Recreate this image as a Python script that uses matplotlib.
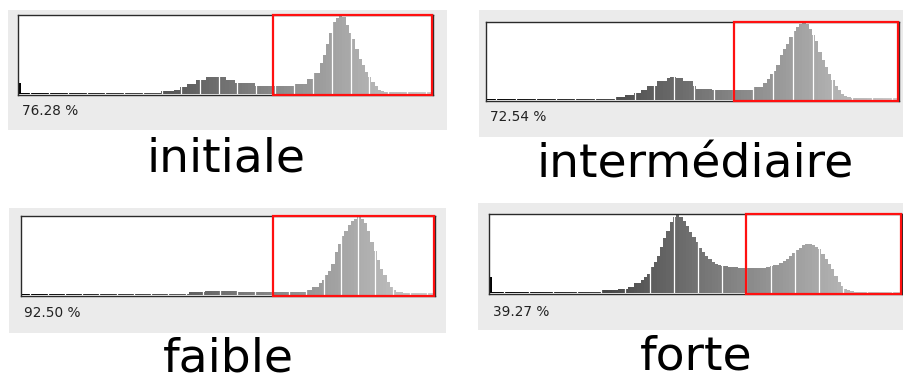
import matplotlib
matplotlib.use("Agg")
import matplotlib.pyplot as plt
from matplotlib.patches import Rectangle

# ---------------- data (histogram heights, % of max, 128 bins of 2 grey levels) -------------
categories = ["initiale", "intermédiaire", "faible", "forte"]
percent_labels = ["76.28 %", "72.54 %", "92.50 %", "39.27 %"]
thresholds = [157, 154, 156, 159]

hist_initiale = [
    14, 1.5, 1.5, 1.5, 1.5, 1.5, 1.5, 1.5, 1.5, 1.5, 1.5, 1.5, 1.5, 1.5, 1.5, 1.5,
    1.5, 1.5, 1.5, 1.5, 1.5, 1.5, 1.5, 1.5, 1.5, 1.5, 1.5, 1.5, 1.5, 1.5, 1.5, 1.5,
    1.5, 1.5, 1.5, 1.5, 1.5, 1.5, 1.5, 1.5, 1.5, 1.5, 1.5, 1.5, 3, 3, 3, 3,
    5, 5, 9, 9, 13, 13, 13, 18, 18, 18, 22, 22, 22, 21, 21, 21,
    18, 18, 18, 14, 14, 14, 14, 14, 14, 10, 10, 10, 10, 10, 10, 10,
    10, 10, 10, 10, 10, 12, 12, 12, 12, 19, 19, 27, 27, 40, 50, 64,
    78, 92, 98, 100, 99, 89, 78, 70, 57, 45, 37, 28, 22, 15, 10, 5,
    3, 2, 2, 2, 2, 2, 2, 2, 2, 2, 2, 2, 2, 2, 2, 2,
]

hist_intermediaire = [
    1.5, 1.5, 1.5, 1.5, 1.5, 1.5, 1.5, 1.5, 1.5, 1.5, 1.5, 1.5, 1.5, 1.5, 1.5, 1.5,
    1.5, 1.5, 1.5, 1.5, 1.5, 1.5, 1.5, 1.5, 1.5, 1.5, 1.5, 1.5, 1.5, 1.5, 1.5, 1.5,
    1.5, 1.5, 1.5, 1.5, 1.5, 1.5, 1.5, 1.5, 3, 3, 3, 6, 6, 6, 9, 9,
    13, 13, 18, 18, 18, 24, 24, 24, 28, 30, 30, 28, 28, 24, 24, 24,
    18, 14, 14, 14, 14, 14, 12, 12, 12, 12, 12, 12, 12, 13, 13, 13,
    13, 13, 13, 17, 17, 17, 22, 27, 33, 38, 45, 58, 66, 73, 82, 90,
    95, 99, 100, 99, 92, 84, 76, 62, 52, 43, 33, 26, 18, 12, 8, 5,
    4, 2, 2, 2, 2, 2, 2, 2, 2, 2, 2, 2, 2, 2, 2, 2,
]

hist_faible = [
    1.5, 1.5, 1.5, 1.5, 1.5, 1.5, 1.5, 1.5, 1.5, 1.5, 1.5, 1.5, 1.5, 1.5, 1.5, 1.5,
    1.5, 1.5, 1.5, 1.5, 1.5, 1.5, 1.5, 1.5, 1.5, 1.5, 1.5, 1.5, 1.5, 1.5, 1.5, 1.5,
    1.5, 1.5, 1.5, 1.5, 1.5, 1.5, 1.5, 1.5, 1.5, 1.5, 1.5, 1.5, 1.5, 1.5, 1.5, 1.5,
    1.5, 1.5, 1.5, 1.5, 3, 3, 3, 3, 3, 5, 5, 5, 5, 5, 5, 5,
    5, 5, 5, 4, 4, 4, 4, 4, 4, 4, 4, 4, 4, 4, 4, 3,
    3, 3, 3, 3, 4, 4, 4, 4, 6, 6, 10, 10, 15, 19, 25, 30,
    40, 55, 65, 75, 82, 90, 95, 98, 100, 98, 92, 82, 68, 56, 45, 33,
    25, 16, 10, 6, 3, 3, 2, 2, 2, 2, 2, 2, 2, 2, 2, 2,
]

hist_forte = [
    20, 1.5, 1.5, 1.5, 1.5, 1.5, 1.5, 1.5, 1.5, 1.5, 1.5, 1.5, 1.5, 1.5, 1.5, 1.5,
    1.5, 1.5, 1.5, 1.5, 1.5, 1.5, 1.5, 1.5, 1.5, 1.5, 1.5, 1.5, 1.5, 1.5, 1.5, 1.5,
    1.5, 1.5, 1.5, 3, 3, 3, 3, 3, 5, 5, 5, 7, 7, 12, 12, 16,
    20, 24, 33, 40, 47, 59, 70, 80, 91, 98, 100, 98, 92, 86, 78, 72,
    65, 57, 52, 47, 44, 40, 37, 35, 34, 34, 33, 33, 33, 32, 32, 32,
    32, 32, 32, 32, 32, 32, 33, 34, 35, 36, 38, 41, 44, 47, 51, 55,
    58, 61, 63, 63, 62, 59, 56, 50, 44, 37, 30, 21, 14, 9, 5, 3,
    2, 1.5, 1.5, 1.5, 1.5, 1.5, 1.5, 1.5, 1.5, 1.5, 1.5, 1.5, 1.5, 1.5, 1.5, 1.5,
]

histograms = [hist_initiale, hist_intermediaire, hist_faible, hist_forte]

# ---------------- layout (pixels) ----------------
W, H = 904, 374
# grey panel boxes (l, t, r, b)
panel_boxes = [(8, 10, 447, 130), (479, 10, 904, 137), (9, 208, 446, 333), (478, 203, 904, 330)]
# histogram frames (l, t, r, b)
axes_boxes = [(18, 15, 433, 95), (486, 22, 899, 101), (21, 216, 435, 296), (489, 214, 902, 294)]
pct_pos = [(22, 115), (490, 121), (24, 317), (493, 316)]
caption_pos = [(226, 171), (695, 178), (228, 371), (696, 370)]
# white separator lines: (first level, step, count)
sep_lines = [(7.4, 11.63, 22), (6.4, 12.25, 21), (5.75, 10.67, 24), (9.5, 15.0, 17)]


def fx(x):
    return x / W


def fy(y):
    return 1 - y / H


fig = plt.figure(figsize=(W / 100, H / 100), dpi=100)
fig.patch.set_facecolor("white")

YMIN, YMAX = -1.7, 101.3

for i in range(4):
    l, t, r, b = panel_boxes[i]
    fig.add_artist(Rectangle((fx(l), fy(b)), (r - l) / W, (b - t) / H,
                             transform=fig.transFigure, facecolor="#ebebeb",
                             edgecolor="none", zorder=0))
    l, t, r, b = axes_boxes[i]
    ax = fig.add_axes([fx(l), fy(b), (r - l) / W, (b - t) / H], zorder=2)
    ax.set_facecolor("white")
    vals = histograms[i]
    xs = [2 * k for k in range(len(vals))]
    cols = []
    for k in range(len(vals)):
        lev = 2 * k + 1
        g = 0.80 * (lev / 255) ** 0.85
        cols.append((g, g, g))
    ax.bar(xs, vals, width=2.05, align="edge", color=cols, linewidth=0,
           antialiased=False, zorder=2)
    first, step, n = sep_lines[i]
    for j in range(n):
        ax.axvline(first + step * j, color="white", lw=0.9, zorder=3)
    ax.set_xlim(0, 256)
    ax.set_ylim(YMIN, YMAX)
    ax.set_xticks([])
    ax.set_yticks([])
    for s in ax.spines.values():
        s.set_color("#2a2a2a")
        s.set_linewidth(1.0)
        s.set_zorder(4)
    thr = thresholds[i]
    ax.add_patch(Rectangle((thr, YMIN + 0.6), 256 - thr - 0.6, YMAX - YMIN - 1.2,
                           facecolor="none", edgecolor="#ff1010", lw=1.6,
                           clip_on=False, zorder=6))

    px, py = pct_pos[i]
    fig.text(fx(px), fy(py), percent_labels[i], fontsize=9.8, color="#222222",
             ha="left", va="baseline", family="DejaVu Sans", zorder=5)
    cx, cy = caption_pos[i]
    fig.text(fx(cx), fy(cy), categories[i], fontsize=34, color="black",
             ha="center", va="baseline", family="DejaVu Sans", zorder=5)

fig.savefig("out.png", dpi=100)
